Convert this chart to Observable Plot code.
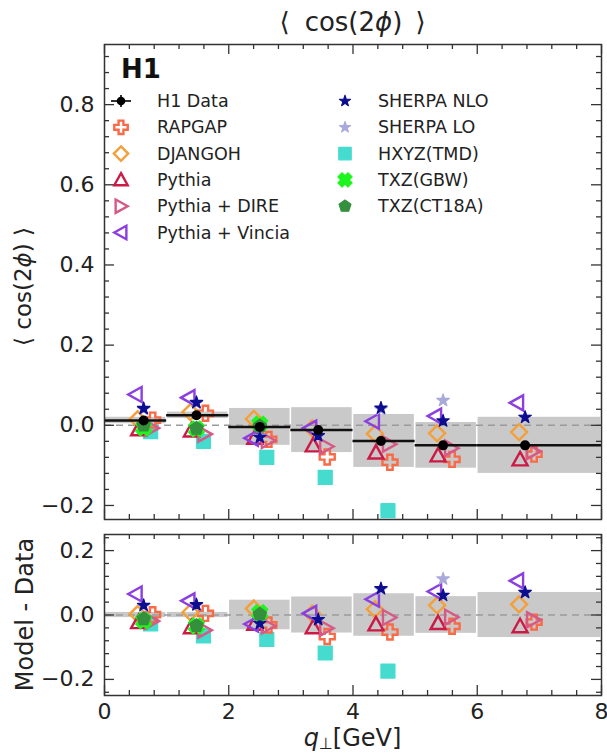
<!DOCTYPE html>
<html><head><meta charset="utf-8">
<script src="https://cdn.jsdelivr.net/npm/d3@7"></script>
<script src="https://cdn.jsdelivr.net/npm/@observablehq/plot@0.6"></script>
<style>
body{margin:0;background:#fff;}
#wrap{position:relative;width:607px;height:753px;font-family:"DejaVu Sans",sans-serif;color:#222;overflow:hidden}
#wrap svg{display:block}
#overlay{position:absolute;left:0;top:0;pointer-events:none}
</style></head><body><div id="wrap"></div>
<script>
// ---- data ----
const binLo = [0, 1, 2, 3, 4, 5, 6];
const binHi = [1, 2, 3, 4, 5, 6, 8];
const qMean = [0.63, 1.48, 2.50, 3.44, 4.45, 5.45, 6.77];
const h1Data = [0.012, 0.025, -0.004, -0.012, -0.039, -0.050, -0.050];
const h1Sys  = [0.008, 0.008, 0.046, 0.056, 0.066, 0.057, 0.070];
const rapgap       = [0.013, 0.030, -0.035, -0.079, -0.092, -0.085, -0.072];
const djangoh      = [0.015, 0.033, 0.016, -0.008, -0.021, -0.020, -0.017];
const pythia       = [-0.010, -0.013, -0.031, -0.050, -0.068, -0.075, -0.085];
const pythiaDire   = [-0.007, -0.022, -0.038, -0.053, -0.047, -0.057, -0.065];
const pythiaVincia = [0.077, 0.069, -0.032, -0.007, 0.010, 0.023, 0.056];
const sherpaNLO    = [0.042, 0.057, -0.030, -0.026, 0.043, 0.011, 0.020];
const sherpaLO     = [0.040, 0.055, -0.028, -0.025, 0.040, 0.062, 0.020];
const hxyzTMD      = [-0.016, -0.040, -0.080, -0.130, -0.213, null, null];
const txzGBW       = [-0.006, -0.009, 0.003, null, null, null, null];
const txzCT18A     = [0.000, -0.008, -0.002, null, null, null, null];
const xTicks = [0, 2, 4, 6, 8];
const yTicksTop = [-0.2, 0, 0.2, 0.4, 0.6, 0.8];
const yTicksBottom = [-0.2, 0, 0.2];

// ---- custom marker shapes ----
function poly(pts){return {draw(ctx,size){const r=Math.sqrt(size/Math.PI);pts.forEach(([x,y],i)=>i?ctx.lineTo(x*r,y*r):ctx.moveTo(x*r,y*r));ctx.closePath();}};}
const w=0.36;
const plusPts=[[-w,-1],[w,-1],[w,-w],[1,-w],[1,w],[w,w],[w,1],[-w,1],[-w,w],[-1,w],[-1,-w],[-w,-w]];
const sPlus=poly(plusPts);
const wx=0.42;
const xPts=[[-wx,-1],[wx,-1],[wx,-wx],[1,-wx],[1,wx],[wx,wx],[wx,1],[-wx,1],[-wx,wx],[-1,wx],[-1,-wx],[-wx,-wx]]
  .map(([x,y])=>[(x-y)/Math.SQRT2,(x+y)/Math.SQRT2]);
const sX=poly(xPts);
const sTriUp=poly([[0,-1],[1,0.8],[-1,0.8]]);
const sTriRight=poly([[1,0],[-0.8,1],[-0.8,-1]]);
const sTriLeft=poly([[-1,0],[0.8,-1],[0.8,1]]);
const sDiamond=poly([[0,-1],[1,0],[0,1],[-1,0]]);
const sPent=poly(d3.range(5).map(k=>{const a=(-90+72*k)*Math.PI/180;return [Math.cos(a),Math.sin(a)];}));

const models=[
  {label:"HXYZ(TMD)", values:hxyzTMD, color:"#45dccf", shape:d3.symbolSquare, open:false, r:7.9, dx:7},
  {label:"RAPGAP", values:rapgap, color:"#f96a47", shape:sPlus, open:true, r:7.5, dx:9},
  {label:"DJANGOH", values:djangoh, color:"#f4a03a", shape:sDiamond, open:true, r:8, dx:-6},
  {label:"Pythia", values:pythia, color:"#cc1a46", shape:sTriUp, open:true, r:7.5, dx:-5},
  {label:"Pythia + DIRE", values:pythiaDire, color:"#d65a86", shape:sTriRight, open:true, r:7.5, dx:8},
  {label:"Pythia + Vincia", values:pythiaVincia, color:"#8b3fe0", shape:sTriLeft, open:true, r:7.5, dx:-8},
  {label:"SHERPA LO", values:sherpaLO, color:"#a9a9dc", shape:d3.symbolStar, open:false, r:3.9, dx:0},
  {label:"SHERPA NLO", values:sherpaNLO, color:"#0d0d8f", shape:d3.symbolStar, open:false, r:3.9, dx:0},
  {label:"TXZ(GBW)", values:txzGBW, color:"#1ef51e", shape:sX, open:false, r:8, dx:0},
  {label:"TXZ(CT18A)", values:txzCT18A, color:"#34903c", shape:sPent, open:false, r:7, dx:0},
];

const bins=binLo.map((lo,i)=>({lo,hi:binHi[i],q:qMean[i],v:h1Data[i],s:h1Sys[i]}));

function modelMarks(diff){
  return models.map(m=>{
    const rows=m.values.map((v,i)=>({q:qMean[i],y:v==null?null:(diff?v-h1Data[i]:v)})).filter(d=>d.y!=null);
    return Plot.dot(rows,{x:"q",y:"y",symbol:m.shape,r:m.r,dx:m.dx,
      fill:m.open?"none":m.color,stroke:m.color,strokeWidth:m.open?2.4:1.2,strokeLinejoin:m.open?"miter":"round"});
  });
}

const W=607, ML=104, MR=6, frameW=W-ML-MR;
function inwardTicks(xMajor,xMinor,yMajor,yMinor,frameH){
  const c={stroke:"#333",strokeWidth:1.3};
  const M=10,m=5;
  return [
    Plot.tickX(xMajor,{x:d=>d,insetTop:frameH-M,...c}),
    Plot.tickX(xMajor,{x:d=>d,insetBottom:frameH-M,...c}),
    Plot.tickX(xMinor,{x:d=>d,insetTop:frameH-m,...c}),
    Plot.tickX(xMinor,{x:d=>d,insetBottom:frameH-m,...c}),
    Plot.tickY(yMajor,{y:d=>d,insetRight:frameW-M,...c}),
    Plot.tickY(yMajor,{y:d=>d,insetLeft:frameW-M,...c}),
    Plot.tickY(yMinor,{y:d=>d,insetRight:frameW-m,...c}),
    Plot.tickY(yMinor,{y:d=>d,insetLeft:frameW-m,...c}),
  ];
}
const xMinor=d3.range(0,21).filter(k=>k%5!==0).map(k=>k*0.4);
const yMinorTop=d3.range(-6,24).filter(k=>k%5!==0).map(k=>k*0.04).filter(v=>v>=-0.235&&v<=0.95);
const yMinorBot=d3.range(-6,7).filter(k=>k%5!==0).map(k=>k*0.04);
const fmt=d3.format(".1f");
const plotStyle={fontFamily:"DejaVu Sans",fontSize:"22px",color:"#222",background:"transparent",overflow:"visible"};

const topH=527, topMT=44, topMB=8;
const topPlot=Plot.plot({
  width:W,height:topH,marginLeft:ML,marginRight:MR,marginTop:topMT,marginBottom:topMB,
  x:{domain:[0,8],axis:null},y:{domain:[-0.235,0.95]},style:plotStyle,
  marks:[
    Plot.rect(bins,{x1:"lo",x2:"hi",y1:d=>d.v-d.s,y2:d=>d.v+d.s,fill:"#c9c9c9",insetLeft:0.8,insetRight:0.8}),
    Plot.ruleY([0],{stroke:"#9a9a9a",strokeWidth:1.5,strokeDasharray:"7,5"}),
    ...modelMarks(false),
    Plot.ruleY(bins,{y:"v",x1:"lo",x2:"hi",stroke:"#111",strokeWidth:2.5}),
    Plot.dot(bins,{x:"q",y:"v",r:5,fill:"#000"}),
    ...inwardTicks(xTicks,xMinor,yTicksTop,yMinorTop,topH-topMT-topMB),
    Plot.axisY(yTicksTop,{anchor:"left",tickSize:0,tickPadding:10,tickFormat:fmt,label:null}),
    Plot.frame({stroke:"#333",strokeWidth:1.5})
  ]
});

const botH=226, botMT=7, botMB=58;
const botPlot=Plot.plot({
  width:W,height:botH,marginLeft:ML,marginRight:MR,marginTop:botMT,marginBottom:botMB,
  x:{domain:[0,8]},y:{domain:[-0.25,0.25]},style:plotStyle,
  marks:[
    Plot.rect(bins,{x1:"lo",x2:"hi",y1:d=>-d.s,y2:d=>d.s,fill:"#c9c9c9",insetLeft:0.8,insetRight:0.8}),
    Plot.ruleY([0],{stroke:"#9a9a9a",strokeWidth:1.5,strokeDasharray:"7,5"}),
    ...modelMarks(true),
    ...inwardTicks(xTicks,xMinor,yTicksBottom,yMinorBot,botH-botMT-botMB),
    Plot.axisY(yTicksBottom,{anchor:"left",tickSize:0,tickPadding:10,tickFormat:fmt,label:null}),
    Plot.axisX(xTicks,{anchor:"bottom",tickSize:0,tickPadding:8,tickFormat:d=>String(d),label:null}),
    Plot.frame({stroke:"#333",strokeWidth:1.5})
  ]
});

const wrap=document.getElementById("wrap");
wrap.appendChild(topPlot);
wrap.appendChild(botPlot);

// ---- overlay: title, axis titles, legend ----
const ov=d3.select(wrap).append("svg").attr("id","overlay").attr("width",W).attr("height",753)
  .attr("font-family","DejaVu Sans").attr("fill","#222");
function mathLabel(g,parts){parts.forEach(([t,it,dx])=>g.append("tspan").attr("font-style",it?"italic":null).attr("dx",dx||null).text(t));}
const cx=ML+frameW/2;
mathLabel(ov.append("text").attr("x",cx).attr("y",31).attr("text-anchor","middle").attr("font-size",26),
  [["⟨",0],["cos(2",0,15],["ϕ",1],[")",0],["⟩",0,13]]);
mathLabel(ov.append("text").attr("transform",`translate(23,${topMT+(topH-topMT-topMB)/2+5}) rotate(-90)`)
  .attr("text-anchor","middle").attr("dominant-baseline","central").attr("font-size",23),
  [["⟨ cos(2",0],["ϕ",1],[") ⟩",0]]);
ov.append("text").attr("transform",`translate(25,${topH+botMT+(botH-botMT-botMB)/2}) rotate(-90)`)
  .attr("text-anchor","middle").attr("dominant-baseline","central").attr("font-size",24).text("Model - Data");
const xl=ov.append("text").attr("x",cx).attr("y",746).attr("text-anchor","middle").attr("font-size",24);
xl.append("tspan").attr("font-style","italic").text("q");
xl.append("tspan").attr("font-size",16).attr("dy",3).text("⊥");
xl.append("tspan").attr("dy",-3).text("[GeV]");

ov.append("text").attr("x",121).attr("y",78).attr("font-size",26).attr("font-weight","bold").attr("fill","#111").text("H1");
const byLabel=Object.fromEntries(models.map(m=>[m.label,m]));
const col1=["H1 Data","RAPGAP","DJANGOH","Pythia","Pythia + DIRE","Pythia + Vincia"];
const col2=["SHERPA NLO","SHERPA LO","HXYZ(TMD)","TXZ(GBW)","TXZ(CT18A)"];
function legendCol(names,mx,tx,y0){
  names.forEach((n,i)=>{
    const y=y0+i*26.3;
    const g=ov.append("g").attr("transform",`translate(${mx},${y})`);
    if(n==="H1 Data"){
      g.append("line").attr("x1",-10).attr("x2",10).attr("stroke","#000").attr("stroke-width",1.6);
      g.append("line").attr("y1",-6).attr("y2",6).attr("stroke","#000").attr("stroke-width",1.6);
      g.append("circle").attr("r",4.3).attr("fill","#000");
    } else {
      const m=byLabel[n];
      g.append("path").attr("d",d3.symbol().type(m.shape).size(Math.PI*m.r*m.r*0.8)())
        .attr("fill",m.open?"none":m.color).attr("stroke",m.color).attr("stroke-width",m.open?2.4:1.1)
        .attr("stroke-linejoin",m.open?"miter":"round");
    }
    ov.append("text").attr("x",tx).attr("y",y).attr("dominant-baseline","central").attr("font-size",17.5).text(n);
  });
}
legendCol(col1,121,157,101);
legendCol(col2,345,378,101);
</script></body></html>
